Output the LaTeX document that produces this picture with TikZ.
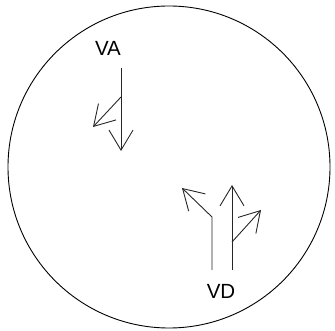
\documentclass[tikz,border=0pt]{standalone}
\usepackage{fontspec}
\setmainfont{Liberation Sans}
\usetikzlibrary{arrows.meta}

\begin{document}
\begin{tikzpicture}[x=1pt,y=-1pt,>={Straight Barb[length=20pt,width=24pt]},
  vec/.style={line width=0.9pt,black!85,->},
  lbl/.style={font=\fontsize{20.5}{22}\selectfont}]

\useasboundingbox (0,0) rectangle (335,331);

% ============================================================
% 1. OUTER CIRCLE
% ============================================================
\draw[line width=0.9pt] (169,167) circle (161);

% ============================================================
% 2. VA (upper left)
% ============================================================
\node[lbl] (VA) at (108,48) {VA};

\coordinate (VAtop) at (121,68);
\coordinate (VAbot) at (121,151);
\coordinate (VAfork) at (121,97);
\coordinate (VAtip) at (93,127);

\draw[vec] (VAtop) -- (VAbot);
\draw[vec] (VAfork) -- (VAtip);

% ============================================================
% 3. VD (lower right)
% ============================================================
\node[lbl] (VD) at (221,291) {VD};

\coordinate (L0) at (212,270);
\coordinate (L1) at (212,217);
\coordinate (L2) at (182,188);
\coordinate (M0) at (232,270);
\coordinate (M1) at (232,185);
\coordinate (Mfork) at (232,242);
\coordinate (M2) at (261,210);

\draw[vec] (L0) -- (L1) -- (L2);
\draw[vec] (M0) -- (M1);
\draw[vec] (Mfork) -- (M2);

\end{tikzpicture}
\end{document}
